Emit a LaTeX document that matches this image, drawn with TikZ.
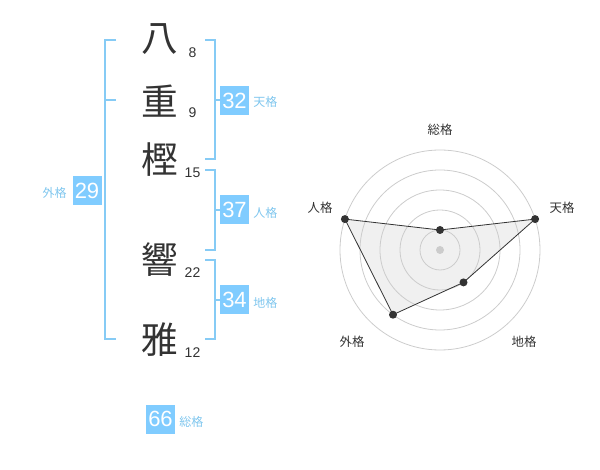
\documentclass[tikz,border=0pt]{standalone}
\usepackage{fontspec}
\setmainfont{Liberation Sans}
\newfontfamily\jp{Noto Sans CJK JP}
\definecolor{bl}{HTML}{80CCFF}
\definecolor{bline}{HTML}{86CBF5}
\definecolor{blt}{HTML}{7FC6EE}
\definecolor{ink}{HTML}{333333}
\definecolor{ring}{HTML}{CCCCCC}
\begin{document}
\begin{tikzpicture}[x=0.75pt,y=-0.75pt,
  kanji/.style={font=\jp\fontsize{27.5}{27.5}\selectfont, text=ink, inner sep=0},
  stroke/.style={font=\fontsize{10.5}{10.5}\selectfont, text=ink, inner sep=0},
  numbox/.style={fill=bl, text=white, font=\fontsize{16.5}{16.5}\selectfont, minimum width=21.75pt, minimum height=21.75pt, inner sep=0},
  lab/.style={font=\jp\fontsize{9}{9}\selectfont, text=blt, inner sep=0},
  brk/.style={draw=bline, line width=1.5pt},
  rlab/.style={font=\jp\fontsize{9.3}{9.3}\selectfont, text=ink, inner sep=0},
  dot/.style={circle, fill=ink, inner sep=0, minimum size=6pt}]
\useasboundingbox (0,0) rectangle (600,470);
% characters
\node[kanji] (c1) at (160,39) {八};
\node[kanji] (c2) at (160,101) {重};
\node[kanji] (c3) at (160,160) {樫};
\node[kanji] (c4) at (160,260) {響};
\node[kanji] (c5) at (160,340) {雅};
\node[stroke] (n1) at (192.5,53) {8};
\node[stroke] (n2) at (192.5,113) {9};
\node[stroke] (n3) at (192.5,173) {15};
\node[stroke] (n4) at (192.5,273) {22};
\node[stroke] (n5) at (192.5,353) {12};
% brackets
\draw[brk] (116,40) -- (105,40) -- (105,339) -- (116,339);
\draw[brk] (105,100) -- (116,100);
\draw[brk] (205,40) -- (215,40) -- (215,159) -- (205,159);
\draw[brk] (215,100) -- (220,100);
\draw[brk] (205,170) -- (215,170) -- (215,250) -- (205,250);
\draw[brk] (215,210) -- (220,210);
\draw[brk] (205,260) -- (215,260) -- (215,339) -- (205,339);
\draw[brk] (215,300) -- (220,300);
% boxes
\node[numbox] (b29) at (87,190.5) {29};
\node[numbox] (b32) at (234.5,100.5) {32};
\node[numbox] (b37) at (234.5,210) {37};
\node[numbox] (b34) at (234.5,300) {34};
\node[numbox] (b66) at (160.5,419) {66};
\node[lab, anchor=east] (l29) at (67,193) {外格};
\node[lab, anchor=west] (l32) at (253,102) {天格};
\node[lab, anchor=west] (l37) at (253,213) {人格};
\node[lab, anchor=west] (l34) at (253,303) {地格};
\node[lab, anchor=west] (l66) at (179,422) {総格};
% radar
\coordinate (O) at (440,250);
\foreach \r in {20,40,60,80,100} \draw[ring, line width=0.6pt] (O) circle[radius=\r];
\fill[ring] (O) circle[radius=4];
\coordinate (pS) at (440,230);
\coordinate (pT) at (535.1,219.1);
\coordinate (pC) at (463.5,282.4);
\coordinate (pG) at (393,314.7);
\coordinate (pJ) at (344.9,219.1);
\filldraw[fill=gray!40, fill opacity=0.3, draw=ink, line width=0.6pt] (pS) -- (pT) -- (pC) -- (pG) -- (pJ) -- cycle;
\foreach \p in {pS,pT,pC,pG,pJ} \node[dot] at (\p) {};
\node[rlab] (rS) at (440,130) {総格};
\node[rlab] (rT) at (562,208) {天格};
\node[rlab] (rJ) at (320,208) {人格};
\node[rlab] (rG) at (352,342) {外格};
\node[rlab] (rC) at (524,342) {地格};
\end{tikzpicture}
\end{document}
